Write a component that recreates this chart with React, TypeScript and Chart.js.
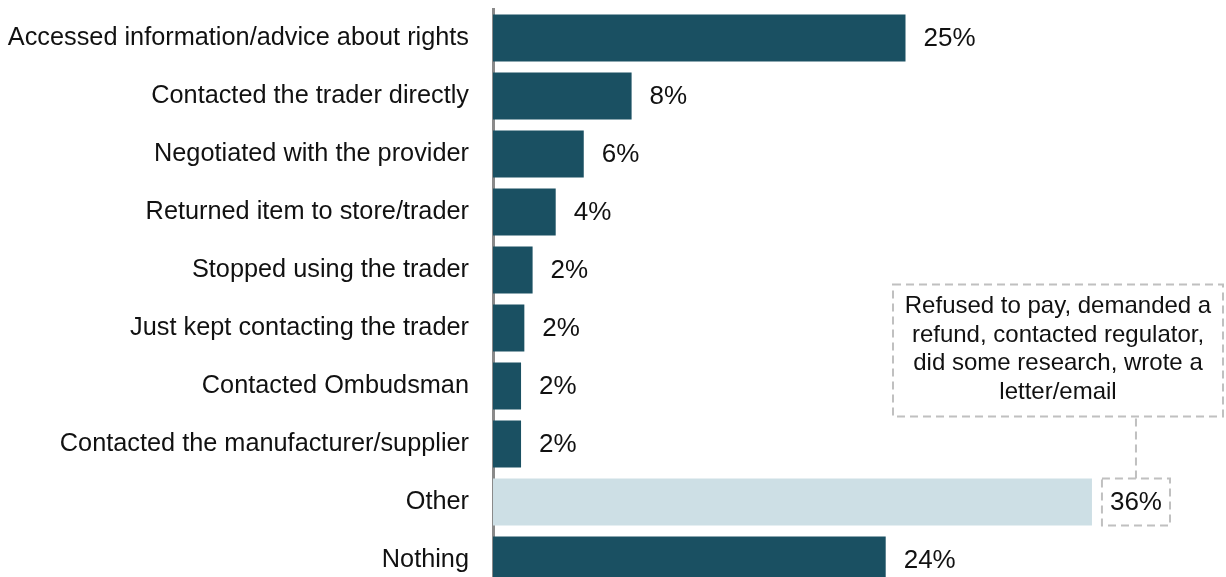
import React, { useEffect, useRef } from "react";
import { Chart, registerables } from "chart.js";

Chart.register(...registerables);

const categories = [
  "Accessed information/advice about rights",
  "Contacted the trader directly",
  "Negotiated with the provider",
  "Returned item to store/trader",
  "Stopped using the trader",
  "Just kept contacting the trader",
  "Contacted Ombudsman",
  "Contacted the manufacturer/supplier",
  "Other",
  "Nothing",
];
const values = [25, 8.4, 5.5, 3.8, 2.4, 1.9, 1.7, 1.7, 36.3, 23.8];
const valueLabels = ["25%", "8%", "6%", "4%", "2%", "2%", "2%", "2%", "36%", "24%"];
const otherIndex = 8;
const otherNote = [
  "Refused to pay, demanded a",
  "refund, contacted regulator,",
  "did some research, wrote a",
  "letter/email",
];

const DARK = "#1a5062";
const LIGHT = "#cddfe5";
const TEXT = "#111111";
const DASH = "#c0c0c0";
const FONT = "Liberation Sans, Arial, sans-serif";

const labelPlugin = {
  id: "valueLabels",
  afterDatasetsDraw(chart: any) {
    const ctx = chart.ctx;
    const meta = chart.getDatasetMeta(0);
    ctx.save();
    ctx.font = `26px ${FONT}`;
    ctx.fillStyle = TEXT;
    ctx.textBaseline = "middle";
    ctx.textAlign = "left";
    meta.data.forEach((bar: any, i: number) => {
      const tx = bar.x + 18;
      ctx.fillText(valueLabels[i], tx, bar.y + 1);
      if (i === otherIndex) {
        const h = bar.height;
        const w = ctx.measureText(valueLabels[i]).width;
        const bx = bar.x + 10;
        const by = bar.y - h / 2;
        const bw = w + 16;
        ctx.setLineDash([8, 5]);
        ctx.strokeStyle = DASH;
        ctx.lineWidth = 2;
        ctx.strokeRect(bx, by, bw, h);
        const cx = bx + bw / 2;
        const boxBottom = by - 62;
        ctx.beginPath();
        ctx.moveTo(cx, by);
        ctx.lineTo(cx, boxBottom);
        ctx.stroke();
        const aw = 330;
        const ah = 132;
        const ax = chart.width - 3 - aw;
        const ay = boxBottom - ah;
        ctx.strokeRect(ax, ay, aw, ah);
        ctx.setLineDash([]);
        ctx.font = `24px ${FONT}`;
        ctx.textAlign = "center";
        const lh = 28.5;
        const startY = ay + ah / 2 - ((otherNote.length - 1) * lh) / 2 - 1;
        otherNote.forEach((line, k) => {
          ctx.fillText(line, ax + aw / 2, startY + k * lh);
        });
        ctx.font = `26px ${FONT}`;
        ctx.textAlign = "left";
      }
    });
    ctx.restore();
  },
};

export default function App() {
  const ref = useRef<HTMLCanvasElement>(null);
  useEffect(() => {
    if (!ref.current) return;
    const chart = new Chart(ref.current, {
      type: "bar",
      data: {
        labels: categories,
        datasets: [
          {
            data: values,
            backgroundColor: values.map((_, i) => (i === otherIndex ? LIGHT : DARK)),
            borderWidth: 0,
            barPercentage: 0.81,
            categoryPercentage: 1,
          },
        ],
      },
      options: {
        indexAxis: "y",
        responsive: false,
        animation: false,
        devicePixelRatio: 1,
        layout: { padding: { top: 9, bottom: 1, left: 0, right: 73 } },
        plugins: { legend: { display: false }, tooltip: { enabled: false } },
        scales: {
          x: { display: false, min: 0, max: 40 },
          y: {
            afterFit: (scale: any) => {
              scale.width = 493;
              scale.paddingTop = 0;
              scale.paddingBottom = 0;
            },
            grid: { display: false, drawTicks: false },
            border: { display: true, color: "#8a8a8a", width: 3 },
            ticks: {
              padding: 24,
              color: TEXT,
              font: { family: FONT, size: 25.3 },
              autoSkip: false,
            },
          },
        },
      },
      plugins: [labelPlugin],
    });
    return () => chart.destroy();
  }, []);
  return (
    <div style={{ position: "absolute", left: 0, top: 0, width: 1226, height: 590 }}>
      <canvas ref={ref} width={1226} height={590} />
    </div>
  );
}
